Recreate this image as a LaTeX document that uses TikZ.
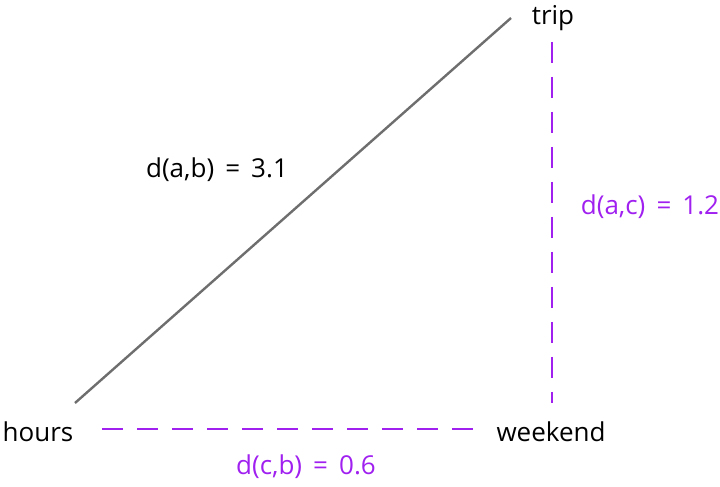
\documentclass[tikz,border=0pt]{standalone}
\usepackage{fontspec}
\setmainfont{Open Sans}
\definecolor{dashpurple}{HTML}{A020F0}
\definecolor{linegray}{HTML}{6E6E6E}
\begin{document}
\begin{tikzpicture}[x=1pt,y=1pt,
  lbl/.style={font=\fontsize{26}{30}\selectfont, inner sep=0pt},
  dist/.style={lbl, text=dashpurple},
  solidline/.style={draw=linegray, line width=2.4pt},
  dashline/.style={draw=dashpurple, line width=2.8pt, dash pattern=on 21pt off 14pt}]
\useasboundingbox (0,0) rectangle (720,487);
\node[lbl] (trip) at (553,469) {trip};
\node[lbl] (hours) at (38,55) {hours};
\node[lbl] (weekend) at (551,55) {weekend};
\coordinate (abS) at (75,84);
\coordinate (abE) at (511,469);
\coordinate (cbS) at (102,58);
\coordinate (cbE) at (478,58);
\coordinate (acS) at (552,445);
\coordinate (acE) at (552,84);
\draw[solidline] (abS) -- (abE);
\draw[dashline] (cbS) -- (cbE);
\draw[dashline] (acS) -- (acE);
\node[lbl] (dab) at (217,317) {d(a,b)\ \,=\ \,3.1};
\node[dist] (dac) at (650,280) {d(a,c)\ \,=\ \,1.2};
\node[dist] (dcb) at (306,20) {d(c,b)\ \,=\ \,0.6};
\end{tikzpicture}
\end{document}
